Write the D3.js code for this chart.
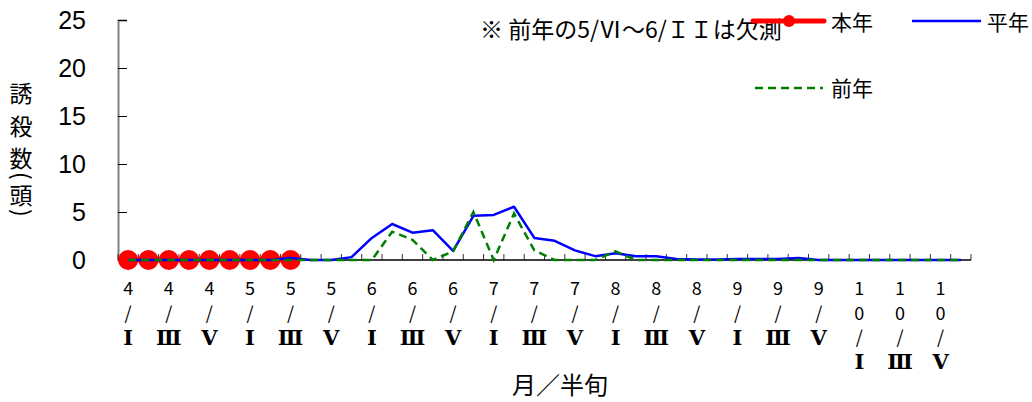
<!DOCTYPE html>
<html><head><meta charset="utf-8">
<script src="https://cdn.jsdelivr.net/npm/d3@7"></script>
<style>
html,body{margin:0;padding:0;background:#fff;}
svg{display:block;}
text{font-family:"Noto Sans CJK JP","Noto Sans",sans-serif;fill:#000;}
</style></head>
<body>
<svg id="chart" width="1032" height="402"></svg>
<script>
// ---- data ----
const months = ["4","5","6","7","8","9","10"];
const hanjun = ["Ⅰ","Ⅱ","Ⅲ","Ⅳ","Ⅴ","Ⅵ"];
const categories = [];
months.forEach(m => hanjun.forEach(h => categories.push(m + "/" + h)));
const labeledHanjun = ["Ⅰ","Ⅲ","Ⅴ"];
const yTicks = [0, 5, 10, 15, 20, 25];

const honnen = [0,0,0,0,0,0,0,0,0];
const heinen = [0,0,0,0,0,0,0,0,0.2,0,0,0.3,2.3,3.75,2.85,3.1,0.95,4.6,4.7,5.55,2.3,2.0,1.0,0.4,0.7,0.4,0.4,0.1,0.05,0.05,0.1,0.1,0.1,0.2,0,0,0,0,0,0,0,0];
const zennen = [0,0,0,0,0,0,0,0,0,0,0,0,0,2.95,2.1,0,0.9,5.0,0,4.85,1.0,0,0,0,0.9,0,0,0,0,0,0,0,0,0,0,0,0,0,0,0,0,0];

const seriesNames = ["本年","平年","前年"];
const yTitle = ["誘","殺","数","(","頭",")"];
const xTitle = "月／半旬";
const note = "※ 前年の5/Ⅵ～6/ＩＩは欠測";

// ---- scales ----
const svg = d3.select("#chart");
const x = d3.scaleBand().domain(categories).range([118, 971]).padding(0);
const y = d3.scaleLinear().domain([0, 25]).range([260, 20]);
const cx = i => x(categories[i]) + x.bandwidth() / 2;

// ---- axes ----
const yAxis = d3.axisRight(y).tickValues(yTicks).tickSize(9).tickFormat("");
const gy = svg.append("g").attr("transform", "translate(118,0)").call(yAxis);
gy.select(".domain").attr("stroke", "#808080").attr("stroke-width", 2);
gy.selectAll(".tick line").attr("stroke", "#000").attr("stroke-width", 1);
svg.append("g").selectAll("text").data(yTicks).join("text")
  .attr("x", 86).attr("y", d => y(d)).attr("dy", "0.36em")
  .attr("text-anchor", "end")
  .style("font-family", "'Liberation Sans',Arial,sans-serif")
  .style("font-size", "25px")
  .text(d => d);

const boundaries = categories.map(c => x(c)).concat([x.range()[1]]);
svg.append("g").selectAll("line").data(boundaries).join("line")
  .attr("x1", d => d).attr("x2", d => d).attr("y1", 260).attr("y2", 254)
  .attr("stroke", "#333").attr("stroke-width", 1);
svg.append("line").attr("x1", 118).attr("x2", 971).attr("y1", 260).attr("y2", 260)
  .attr("stroke", "#000").attr("stroke-width", 1.5);

const xl = svg.append("g");
categories.forEach((c, i) => {
  const [m, h] = c.split("/");
  if (!labeledHanjun.includes(h)) return;
  const parts = m.split("").concat(["/", h]);
  parts.forEach((p, k) => {
    const isRoman = k === parts.length - 1;
    xl.append("text")
      .attr("x", cx(i)).attr("y", 289 + k * 24.3).attr("dy", "0.36em")
      .attr("text-anchor", "middle")
      .style("font-family", isRoman ? "'DejaVu Serif','Liberation Serif','Noto Sans CJK JP',serif" : "'Noto Sans CJK JP',sans-serif")
      .style("font-size", isRoman ? "21px" : "18px")
      .style("font-weight", isRoman ? "600" : "normal")
      .text(p);
  });
});

svg.append("text").attr("x", 560).attr("y", 385).attr("dy", "0.36em")
  .attr("text-anchor", "middle").style("font-size", "24px").text(xTitle);
const yTitlePos = [94, 127, 159, 176, 196, 213];
yTitle.forEach((ch, k) => {
  const paren = ch === "(" || ch === ")";
  svg.append("text")
    .attr("transform", `translate(21,${yTitlePos[k]})` + (paren ? " rotate(90)" : ""))
    .attr("dy", "0.36em").attr("text-anchor", "middle")
    .style("font-size", "23px").text(ch);
});

svg.append("text").attr("x", 480).attr("y", 30).attr("dy", "0.36em")
  .style("font-size", "23px").text(note);

// ---- series ----
const line = d3.line().x((d, i) => cx(i)).y(d => y(d));
svg.append("path").datum(honnen).attr("d", line)
  .attr("fill", "none").attr("stroke", "#ff0000").attr("stroke-width", 5);
svg.append("g").selectAll("circle").data(honnen).join("circle")
  .attr("cx", (d, i) => cx(i)).attr("cy", d => y(d)).attr("r", 10).attr("fill", "#ff0000");
svg.append("path").datum(heinen).attr("d", line)
  .attr("fill", "none").attr("stroke", "#0000ff").attr("stroke-width", 2.5)
  .attr("stroke-linejoin", "round");
svg.append("path").datum(zennen).attr("d", line)
  .attr("fill", "none").attr("stroke", "#008000").attr("stroke-width", 2.5)
  .attr("stroke-dasharray", "8,5");

// ---- legend ----
const lg = svg.append("g");
lg.append("line").attr("x1", 753).attr("x2", 824).attr("y1", 21).attr("y2", 21)
  .attr("stroke", "#ff0000").attr("stroke-width", 5).attr("stroke-linecap", "round");
lg.append("circle").attr("cx", 789).attr("cy", 21).attr("r", 6).attr("fill", "#ff0000");
lg.append("text").attr("x", 831).attr("y", 22).attr("dy", "0.36em").style("font-size", "21px").text(seriesNames[0]);
lg.append("line").attr("x1", 912).attr("x2", 981).attr("y1", 21).attr("y2", 21)
  .attr("stroke", "#0000ff").attr("stroke-width", 2.5);
lg.append("text").attr("x", 987).attr("y", 22).attr("dy", "0.36em").style("font-size", "21px").text(seriesNames[1]);
lg.append("line").attr("x1", 755).attr("x2", 823).attr("y1", 88).attr("y2", 88)
  .attr("stroke", "#008000").attr("stroke-width", 2.5).attr("stroke-dasharray", "8,5");
lg.append("text").attr("x", 831).attr("y", 88).attr("dy", "0.36em").style("font-size", "21px").text(seriesNames[2]);
</script>
</body></html>
